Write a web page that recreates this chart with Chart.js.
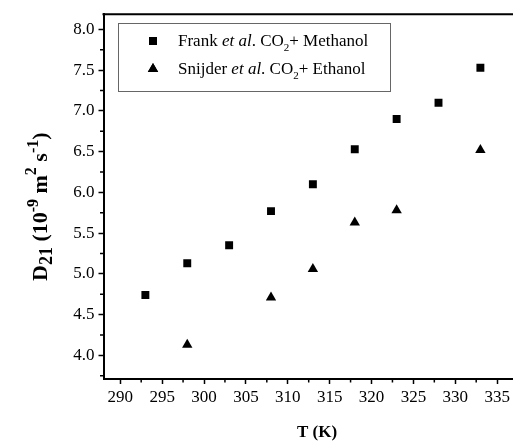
<!DOCTYPE html>
<html>
<head>
<meta charset="utf-8">
<script src="https://cdn.jsdelivr.net/npm/chart.js@4.4.1/dist/chart.umd.min.js"></script>
<style>
    html, body { margin: 0; padding: 0; background: #fff; }
    #wrap { width: 513px; height: 441px; }
</style>
</head>
<body>
<div id="wrap"><canvas id="chart" width="513" height="441"></canvas></div>
<script>
// temperatures (K) and diffusion coefficients (10^-9 m2/s)
const frankT = [293, 298, 303, 308, 313, 318, 323, 328, 333];
const frankD = [4.74, 5.13, 5.35, 5.77, 6.10, 6.53, 6.90, 7.10, 7.53];
const snijderT = [298, 308, 313, 318, 323, 333];
const snijderD = [4.13, 4.71, 5.06, 5.63, 5.78, 6.52];

const xTicks = [290, 295, 300, 305, 310, 315, 320, 325, 330, 335];
const yTicks = [4.0, 4.5, 5.0, 5.5, 6.0, 6.5, 7.0, 7.5, 8.0];

const serif = '"Liberation Serif", "Times New Roman", serif';

// draws a string made of runs: {t, bold, italic, size, dy}
function drawRuns(ctx, runs, x, y) {
    let cx = x;
    runs.forEach(r => {
        ctx.font = `${r.italic ? 'italic ' : ''}${r.bold ? 'bold ' : ''}${r.size}px ${serif}`;
        ctx.fillText(r.t, cx, y + (r.dy || 0));
        cx += ctx.measureText(r.t).width;
    });
    return cx - x;
}

const decorations = {
    id: 'decorations',
    afterDraw(chart) {
        const ctx = chart.ctx;
        const area = chart.chartArea;
        const xs = chart.scales.x;
        const ys = chart.scales.y;
        ctx.save();
        ctx.fillStyle = '#000';
        ctx.strokeStyle = '#000';

        // frame runs off the right edge of the picture
        ctx.lineWidth = 2;
        ctx.beginPath();
        ctx.moveTo(area.left - 1, area.top);
        ctx.lineTo(chart.width, area.top);
        ctx.moveTo(area.right - 2, area.bottom);
        ctx.lineTo(chart.width, area.bottom);
        ctx.stroke();

        // minor ticks
        ctx.lineWidth = 1.5;
        ctx.beginPath();
        xTicks.forEach(v => {
            const m = v + 2.5;
            const px = xs.getPixelForValue(m);
            if (px > chart.width) return;
            ctx.moveTo(px, area.bottom);
            ctx.lineTo(px, area.bottom + 3.5);
        });
        yTicks.forEach(v => {
            const m = v - 0.25;
            if (m < ys.min) return;
            const py = ys.getPixelForValue(m);
            ctx.moveTo(area.left, py);
            ctx.lineTo(area.left - 3.5, py);
        });
        ctx.stroke();

        // x title
        ctx.textBaseline = 'alphabetic';
        ctx.textAlign = 'center';
        ctx.font = `bold 17px ${serif}`;
        ctx.fillText('T (K)', 317, 437);

        // y title, rotated
        ctx.textAlign = 'left';
        const yRuns = [
            { t: 'D', bold: true, size: 22 },
            { t: '21', bold: true, size: 18, dy: 5 },
            { t: ' (10', bold: true, size: 22 },
            { t: '-9', bold: true, size: 16, dy: -9 },
            { t: ' m', bold: true, size: 22 },
            { t: '2', bold: true, size: 16, dy: -11 },
            { t: ' s', bold: true, size: 22 },
            { t: '-1', bold: true, size: 16, dy: -9 },
            { t: ')', bold: true, size: 22 }
        ];
        ctx.save();
        ctx.translate(47, 281);
        ctx.rotate(-Math.PI / 2);
        drawRuns(ctx, yRuns, 0, 0);
        ctx.restore();

        // legend
        ctx.strokeStyle = '#666';
        ctx.lineWidth = 1;
        ctx.strokeRect(118.5, 23.5, 272, 68);
        const rows = [
            { ds: 0, y: 41, runs: [
                { t: 'Frank ', size: 17 }, { t: 'et al', italic: true, size: 17 },
                { t: '. CO', size: 17 }, { t: '2', size: 11, dy: 5 }, { t: '+ Methanol', size: 17 }
            ] },
            { ds: 1, y: 69, runs: [
                { t: 'Snijder ', size: 17 }, { t: 'et al', italic: true, size: 17 },
                { t: '. CO', size: 17 }, { t: '2', size: 11, dy: 5 }, { t: '+ Ethanol', size: 17 }
            ] }
        ];
        rows.forEach(row => {
            const ds = chart.data.datasets[row.ds];
            Chart.helpers.drawPoint(ctx, {
                pointStyle: ds.pointStyle,
                radius: ds.pointRadius,
                borderWidth: 0
            }, 153, row.y);
            ctx.fill();
            drawRuns(ctx, row.runs, 178, row.y + 5);
        });

        ctx.restore();
    }
};

document.addEventListener('DOMContentLoaded', () => {
    const ctx = document.getElementById('chart').getContext('2d');

    new Chart(ctx, {
        type: 'scatter',
        data: {
            datasets: [
                {
                    label: 'Frank et al. CO2+ Methanol',
                    data: frankT.map((t, i) => ({ x: t, y: frankD[i] })),
                    pointStyle: 'rect',
                    pointRadius: 5.6,
                    backgroundColor: '#000',
                    borderColor: '#000',
                    borderWidth: 0
                },
                {
                    label: 'Snijder et al. CO2+ Ethanol',
                    data: snijderT.map((t, i) => ({ x: t, y: snijderD[i] })),
                    pointStyle: 'triangle',
                    pointRadius: 6,
                    backgroundColor: '#000',
                    borderColor: '#000',
                    borderWidth: 0
                }
            ]
        },
        options: {
            responsive: false,
            animation: false,
            layout: { padding: { top: 10, right: 0, bottom: 0, left: 0 } },
            plugins: {
                legend: { display: false },
                tooltip: { enabled: false }
            },
            scales: {
                x: {
                    type: 'linear',
                    min: 288,
                    max: 335.9,
                    afterBuildTicks: scale => { scale.ticks = xTicks.map(v => ({ value: v })); },
                    afterFit: scale => { scale.height = 62; },
                    grid: { drawOnChartArea: false, tickLength: 5, tickWidth: 1.5, tickColor: '#000' },
                    border: { color: '#000', width: 2 },
                    ticks: {
                        color: '#000',
                        padding: 3,
                        maxRotation: 0,
                        font: { family: serif, size: 17 },
                        callback: v => String(v)
                    }
                },
                y: {
                    min: 3.709,
                    max: 8.187,
                    afterBuildTicks: scale => { scale.ticks = yTicks.map(v => ({ value: v })); },
                    afterFit: scale => { scale.width = 103.5; },
                    grid: { drawOnChartArea: false, tickLength: 5, tickWidth: 1.5, tickColor: '#000' },
                    border: { color: '#000', width: 2 },
                    ticks: {
                        color: '#000',
                        padding: 4,
                        font: { family: serif, size: 17 },
                        callback: v => v.toFixed(1)
                    }
                }
            }
        },
        plugins: [decorations]
    });
});
</script>
</body>
</html>
